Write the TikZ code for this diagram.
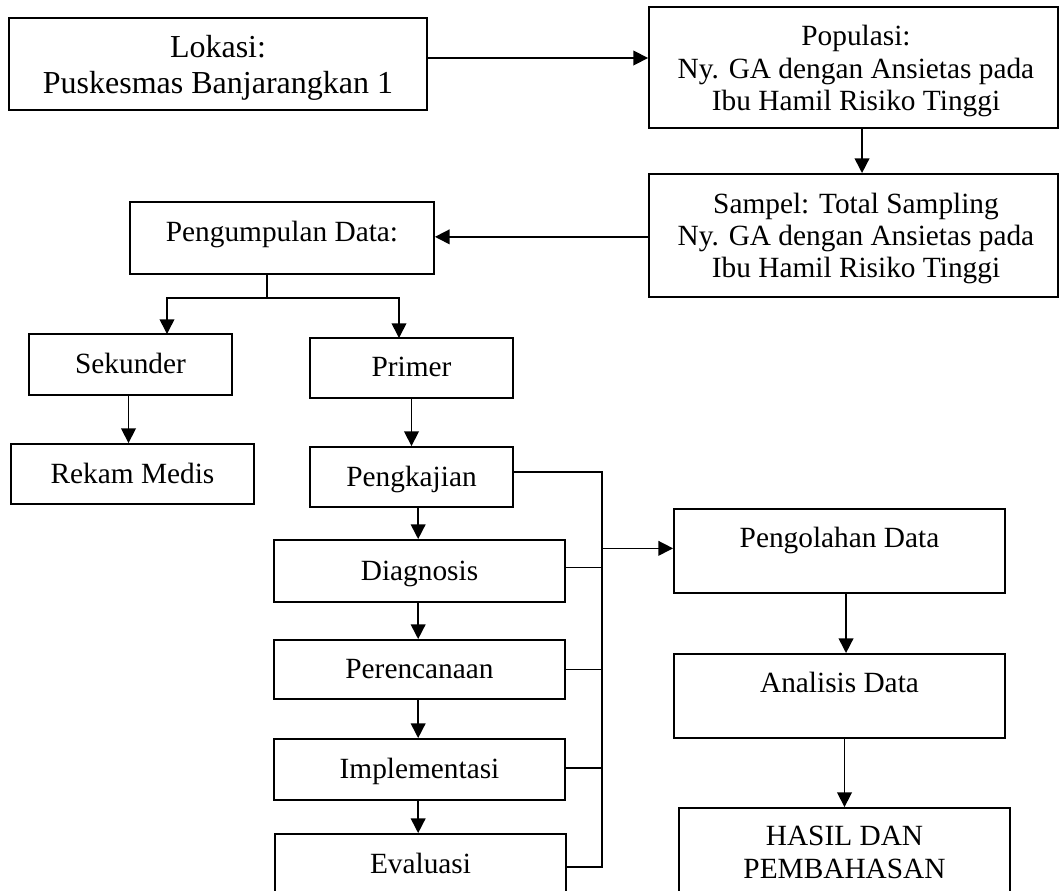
\documentclass[tikz,border=0pt]{standalone}
\usepackage{fontspec}
\setmainfont{Liberation Serif}
\usetikzlibrary{arrows.meta,fit}
\begin{document}
\begin{tikzpicture}[x=0.75pt,y=-0.75pt,
  box/.style={draw,line width=1.4pt,inner sep=0pt},
  txt/.style={anchor=base,inner sep=0pt,font=\fontsize{22}{26}\selectfont},
  big/.style={anchor=base,inner sep=0pt,font=\fontsize{24}{28}\selectfont},
  con/.style={line width=1.2pt},
  arr/.style={con,-{Triangle[length=11pt,width=11pt]}}]
\useasboundingbox (0,0) rectangle (1060,890);
\begin{scope}
\clip (0,0) rectangle (1060,890);
% boxes
\node[box,fit={(9,18) (427,110)}] (lokasi) {};
\node[box,fit={(649,7) (1058,128)}] (populasi) {};
\node[box,fit={(649,174) (1058,297)}] (sampel) {};
\node[box,fit={(130,202) (434,274)}] (pengumpulan) {};
\node[box,fit={(29,334) (232,395)}] (sekunder) {};
\node[box,fit={(310,338) (513,398)}] (primer) {};
\node[box,fit={(11,444) (254,504)}] (rekam) {};
\node[box,fit={(310,447) (513,507)}] (pengkajian) {};
\node[box,fit={(274,540) (565,602)}] (diagnosis) {};
\node[box,fit={(274,640) (565,699)}] (perencanaan) {};
\node[box,fit={(274,739) (565,800)}] (implementasi) {};
\node[box,fit={(275,834) (566,905)}] (evaluasi) {};
\node[box,fit={(674,509) (1005,593)}] (pengolahan) {};
\node[box,fit={(674,654) (1005,738)}] (analisis) {};
\node[box,fit={(679,808) (1010,905)}] (hasil) {};
% texts
\node[big] (tlok1) at (218,57) {Lokasi:};
\node[big] (tlok2) at (218,93) {Puskesmas Banjarangkan 1};
\node[txt] (tpop1) at (856,45) {Populasi:};
\node[txt] (tpop2) at (856,78) {Ny. GA dengan Ansietas pada};
\node[txt] (tpop3) at (856,110) {Ibu Hamil Risiko Tinggi};
\node[txt] (tsam1) at (856,213) {Sampel: Total Sampling};
\node[txt] (tsam2) at (856,245) {Ny. GA dengan Ansietas pada};
\node[txt] (tsam3) at (856,277) {Ibu Hamil Risiko Tinggi};
\node[txt] (tpeng) at (282,241) {Pengumpulan Data:};
\node[txt] (tsek) at (130.5,373) {Sekunder};
\node[txt] (tpri) at (411.5,376) {Primer};
\node[txt] (trek) at (132.5,483) {Rekam Medis};
\node[txt] (tkaj) at (411.5,486) {Pengkajian};
\node[txt] (tdia) at (419.5,580) {Diagnosis};
\node[txt] (tren) at (419.5,678) {Perencanaan};
\node[txt] (timp) at (419.5,778) {Implementasi};
\node[txt] (teva) at (420.5,873) {Evaluasi};
\node[txt] (tola) at (839.5,547) {Pengolahan Data};
\node[txt] (tana) at (839.5,692) {Analisis Data};
\node[txt] (thas1) at (844.5,845) {HASIL DAN};
\node[txt] (thas2) at (844.5,878) {PEMBAHASAN};
% helper coordinates
\coordinate (split) at (267,298);
\coordinate (sekIn) at (167,334);
\coordinate (priIn) at (399,338);
\coordinate (bustop) at (602,472);
\coordinate (busbot) at (602,867);
% connectors
\draw[arr] ([yshift=4.5pt]lokasi.east) -- ([yshift=4.5pt]lokasi.east -| populasi.west);
\draw[arr] ([xshift=6.4pt]populasi.south) -- ([xshift=6.4pt]sampel.north);
\draw[arr] ([yshift=-1pt]sampel.west) -- ([yshift=-1pt]sampel.west -| pengumpulan.east);
\draw[con] (pengumpulan.south -| split) -- (split);
\draw[arr] (split) -| (sekIn);
\draw[arr] (split) -| (priIn);
\draw[arr] ([xshift=-1.5pt]sekunder.south) -- ([xshift=-1.5pt]sekunder.south |- rekam.north);
\draw[arr] (primer.south) -- (pengkajian.north);
\draw[arr] ([xshift=-1pt]diagnosis.north |- pengkajian.south) -- ([xshift=-1pt]diagnosis.north);
\draw[arr] ([xshift=-1pt]diagnosis.south) -- ([xshift=-1pt]perencanaan.north);
\draw[arr] ([xshift=-1pt]perencanaan.south) -- ([xshift=-1pt]implementasi.north);
\draw[arr] ([xshift=-1pt]implementasi.south) -- ([xshift=-1pt]implementasi.south |- evaluasi.north);
\draw[con] (pengkajian.east |- bustop) -- (bustop) -- (busbot) -- (evaluasi.east |- busbot);
\draw[con] ([yshift=2.5pt]diagnosis.east) -- ([yshift=2.5pt]diagnosis.east -| bustop);
\draw[con] (perencanaan.east) -- (perencanaan.east -| bustop);
\draw[con] ([yshift=1pt]implementasi.east) -- ([yshift=1pt]implementasi.east -| bustop);
\draw[arr] ([yshift=2pt]bustop |- pengolahan.west) -- ([yshift=2pt]pengolahan.west);
\draw[arr] ([xshift=4.9pt]pengolahan.south) -- ([xshift=4.9pt]analisis.north);
\draw[arr] (analisis.south -| hasil.north) -- (hasil.north);
\end{scope}
\end{tikzpicture}
\end{document}
